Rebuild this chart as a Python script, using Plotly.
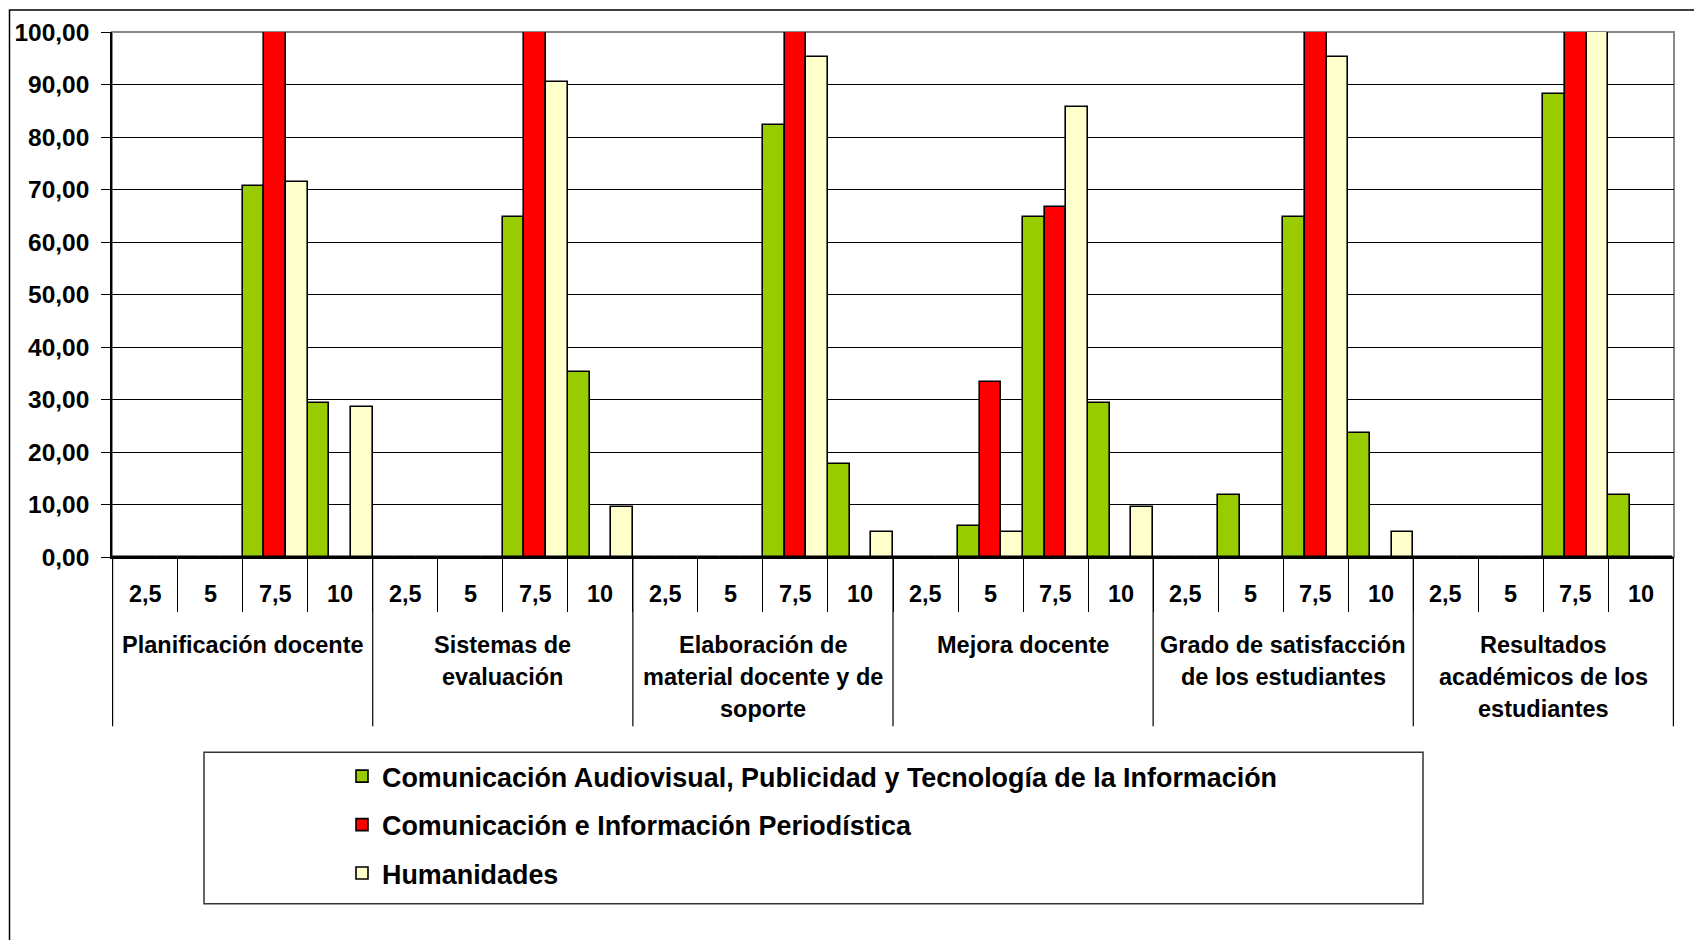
import plotly.graph_objects as go

# ---------------- data ----------------
groups = [
    "Planificación docente",
    "Sistemas de<br>evaluación",
    "Elaboración de<br>material docente y de<br>soporte",
    "Mejora docente",
    "Grado de satisfacción<br>de los estudiantes",
    "Resultados<br>académicos de los<br>estudiantes",
]
subcats = ["2,5", "5", "7,5", "10"]

series_names = [
    "Comunicación Audiovisual, Publicidad y Tecnología de la Información",
    "Comunicación e Información Periodística",
    "Humanidades",
]
audiovisual = [
    0, 0, 70.59, 29.41,
    0, 0, 64.71, 35.29,
    0, 0, 82.35, 17.65,
    0, 5.88, 64.71, 29.41,
    0, 11.76, 64.71, 23.53,
    0, 0, 88.24, 11.76,
]
periodistica = [
    0, 0, 100.00, 0,
    0, 0, 100.00, 0,
    0, 0, 100.00, 0,
    0, 33.33, 66.67, 0,
    0, 0, 100.00, 0,
    0, 0, 100.00, 0,
]
humanidades = [
    0, 0, 71.43, 28.57,
    0, 0, 90.48, 9.52,
    0, 0, 95.24, 4.76,
    0, 4.76, 85.71, 9.52,
    0, 0, 95.24, 4.76,
    0, 0, 100.00, 0,
]
yticks = [0, 10, 20, 30, 40, 50, 60, 70, 80, 90, 100]

# ---------------- styling ----------------
colors = ["#99CC00", "#FF0000", "#FFFFCC"]
FONT = "Liberation Sans, Arial, sans-serif"
FS = 23.5
LEG_FS = 26.9

keys = [f"{g.replace('<br>', ' ')} · {s}" for g in groups for s in subcats]

fig = go.Figure()
for i, (name, vals) in enumerate(zip(series_names, [audiovisual, periodistica, humanidades])):
    fig.add_trace(go.Bar(
        x=keys, y=vals, name=name, legendgroup=f"g{i}",
        marker=dict(color=colors[i], line=dict(color="#000000", width=1.6)),
    ))

# page offset from the default body margin of the html page
OFF = 8
W, H = 1702 - OFF, 940 - OFF
PLOT_L, PLOT_R, PLOT_T, PLOT_B = 112, 1674, 31.5, 557.5  # page pixel coords
ML = PLOT_L - OFF
MR = (W + OFF) - PLOT_R
MT = PLOT_T - OFF
MB = (H + OFF) - PLOT_B
pw = PLOT_R - PLOT_L
ph = PLOT_B - PLOT_T


def py(pix_y):
    """page pixel y -> paper y"""
    return (PLOT_B - pix_y) / ph


def px(pix_x):
    """page pixel x -> paper x"""
    return (pix_x - PLOT_L) / pw


annotations = []
line_y = [646, 678, 710]
for gi, g in enumerate(groups):
    for si, s in enumerate(subcats):
        annotations.append(dict(
            x=keys[gi * len(subcats) + si], y=py(595), xref="x", yref="paper",
            text=s, showarrow=False, yanchor="middle", xanchor="center",
            font=dict(family=FONT, size=FS, color="black", weight="bold"),
        ))
    for li, part in enumerate(g.split("<br>")):
        annotations.append(dict(
            x=gi * len(subcats) + (len(subcats) - 1) / 2, y=py(line_y[li]),
            xref="x", yref="paper",
            text=part, showarrow=False, yanchor="middle", xanchor="center",
            font=dict(family=FONT, size=FS, color="black", weight="bold"),
        ))

shapes = []
# group dividers below the axis
for gi in range(len(groups) + 1):
    shapes.append(dict(
        type="line", xref="x", yref="paper",
        x0=gi * len(subcats) - 0.5, x1=gi * len(subcats) - 0.5,
        y0=0, y1=py(727), line=dict(color="black", width=1.2),
    ))
# plot area border (gray)
shapes.append(dict(type="rect", xref="paper", yref="paper", x0=0, x1=1, y0=0, y1=1,
                   line=dict(color="#888888", width=2), layer="between"))
# legend box
shapes.append(dict(type="rect", xref="paper", yref="paper",
                   x0=px(204), x1=px(1423), y0=py(753), y1=py(905),
                   line=dict(color="#333333", width=1.5)))
# outer chart border
shapes.append(dict(type="rect", xref="paper", yref="paper",
                   x0=px(9.5), x1=px(1702 + 20), y0=py(9.5), y1=py(940 + 20),
                   line=dict(color="black", width=1.5)))

fig.update_layout(
    width=W, height=H, autosize=False,
    margin=dict(l=ML, r=MR, t=MT, b=MB, pad=0, autoexpand=False),
    paper_bgcolor="white", plot_bgcolor="white",
    separators=",.",
    barmode="group", bargap=0, bargroupgap=0,
    font=dict(family=FONT, size=FS, color="black"),
    showlegend=True,
    legend=dict(
        x=px(342), y=py(753), xanchor="left", yanchor="top",
        orientation="v", tracegroupgap=10.5,
        bgcolor="rgba(0,0,0,0)", borderwidth=0,
        font=dict(family=FONT, size=LEG_FS, color="black", weight="bold"),
    ),
    xaxis=dict(
        type="category", showticklabels=False, automargin=False,
        ticks="outside", tickson="boundaries", ticklen=53,
        tickcolor="black", tickwidth=1.2,
        showline=True, linecolor="black", linewidth=1.5,
        showgrid=False, zeroline=False,
    ),
    yaxis=dict(
        range=[0, 100], tickvals=yticks, tickformat=".2f", automargin=False,
        ticks="outside", ticklen=9, tickcolor="black", tickwidth=1.2,
        showline=True, linecolor="black", linewidth=1.5,
        showgrid=True, gridcolor="black", gridwidth=1,
        zeroline=False, ticklabelstandoff=7,
        tickfont=dict(family=FONT, size=24.5, color="black", weight="bold"),
    ),
    annotations=annotations,
    shapes=shapes,
)

fig.write_html("out.html")
